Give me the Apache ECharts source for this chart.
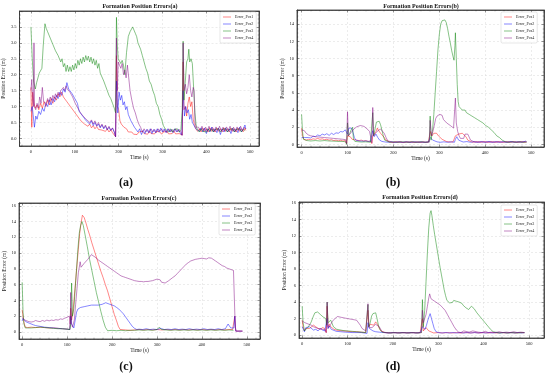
<!DOCTYPE html>
<html><head><meta charset="utf-8">
<script src="https://cdn.jsdelivr.net/npm/echarts@6/dist/echarts.min.js"></script>
<style>html,body{margin:0;padding:0;background:#fff}#c{width:550px;height:377px}</style>
</head><body><div id="c"></div>
<script>
const seriesNames = ['Error_Pos1','Error_Pos2','Error_Pos3','Error_Pos4'];
const panelTitles = ['Formation Position Errors(a)','Formation Position Errors(b)','Formation Position Errors(c)','Formation Position Errors(d)'];
const captions = ['(a)','(b)','(c)','(d)'];
const xAxisName = 'Time (s)';
const yAxisName = 'Position Error (m)';

// ---- panel (a) ----
const a_pos1 = [[0,1.6],[2,0.35],[4,1.45],[7,1.1],[10,0.95],[14,1.05],[18,0.9],[22,1.1],[26,0.95],[30,1.15],[34,1.0],[38,1.2],[42,1.05],[46,1.25],[50,1.1],[54,1.3],[58,1.2],[62,1.4],[66,1.3],[70,1.45],[74,1.3],[78,1.35],[82,1.15],[86,1.2],[90,1.0],[94,1.05],[98,0.85],[102,0.9],[106,0.7],[110,0.75],[114,0.55],[118,0.6],[122,0.45],[126,0.5],[130,0.38],[134,0.45],[138,0.33],[142,0.4],[146,0.3],[150,0.37],[154,0.28],[158,0.34],[162,0.26],[166,0.32],[170,0.22],[174,0.3],[178,0.2],[182,0.27],[186,0.18],[190,0.24],[193,0.05],[195,2.6],[197,1.0],[200,0.9],[203,0.55],[206,0.45],[209,0.5],[212,0.35],[215,0.4],[218,0.3],[222,0.2],[226,0.15],[230,0.2],[234,0.13],[238,0.18],[242,0.12],[246,0.2],[250,0.14],[254,0.22],[258,0.15],[262,0.2],[266,0.13],[270,0.22],[274,0.15],[278,0.2],[282,0.14],[286,0.22],[290,0.16],[294,0.2],[298,0.13],[302,0.2],[306,0.15],[310,0.22],[314,0.14],[318,0.2],[322,0.15],[326,0.22],[330,0.14],[334,0.2],[338,0.15],[342,0.2],[345,0.1],[347,2.4],[349,0.9],[352,1.0],[355,0.7],[358,1.1],[361,1.3],[364,1.0],[367,1.15],[370,0.6],[373,0.4],[376,0.3],[380,0.22],[384,0.3],[388,0.2],[392,0.32],[396,0.22],[400,0.3],[404,0.2],[408,0.33],[412,0.22],[416,0.3],[420,0.2],[424,0.32],[428,0.22],[432,0.3],[436,0.2],[440,0.33],[444,0.22],[448,0.3],[452,0.2],[456,0.32],[460,0.22],[464,0.3],[468,0.2],[472,0.32],[476,0.22],[480,0.3],[484,0.21],[488,0.32],[490,0.25]];
const a_pos2 = [[0,0.85],[3,1.0],[5,0.75],[8,0.35],[11,0.7],[14,0.6],[18,0.85],[22,0.75],[26,0.95],[30,0.85],[34,1.1],[38,1.0],[42,1.2],[46,1.05],[50,1.25],[54,1.15],[58,1.35],[62,1.25],[66,1.45],[70,1.35],[74,1.55],[78,1.45],[82,1.75],[86,1.55],[90,1.6],[94,1.4],[98,1.45],[102,1.2],[106,1.1],[110,0.85],[114,0.9],[118,0.7],[122,0.75],[126,0.55],[130,0.6],[134,0.45],[138,0.55],[142,0.4],[146,0.5],[150,0.38],[154,0.45],[158,0.33],[162,0.42],[166,0.3],[170,0.38],[174,0.27],[178,0.35],[182,0.25],[186,0.32],[190,0.2],[193,0.05],[195,1.8],[198,0.8],[201,1.45],[204,1.2],[207,1.35],[210,1.05],[213,1.15],[216,0.9],[219,1.0],[222,0.75],[225,0.8],[228,0.55],[232,0.6],[236,0.35],[240,0.4],[244,0.2],[248,0.3],[252,0.12],[256,0.25],[260,0.15],[264,0.28],[268,0.18],[272,0.3],[276,0.15],[280,0.28],[284,0.18],[288,0.3],[292,0.2],[296,0.32],[300,0.2],[304,0.3],[308,0.18],[312,0.3],[316,0.2],[320,0.28],[324,0.18],[328,0.3],[332,0.2],[336,0.28],[340,0.18],[344,0.1],[347,1.5],[350,0.7],[353,1.0],[356,0.8],[359,0.9],[362,0.6],[365,0.75],[368,0.5],[372,0.55],[376,0.3],[380,0.35],[384,0.22],[388,0.33],[392,0.2],[396,0.32],[400,0.15],[404,0.3],[408,0.2],[412,0.35],[416,0.2],[420,0.3],[424,0.18],[428,0.32],[432,0.12],[436,0.3],[440,0.2],[444,0.33],[448,0.2],[452,0.3],[456,0.15],[460,0.32],[464,0.2],[468,0.3],[472,0.18],[476,0.35],[480,0.2],[484,0.3],[488,0.42],[490,0.3]];
const a_pos3 = [[0,3.5],[3,2.5],[6,1.8],[10,1.55],[13,1.75],[16,1.9],[19,2.05],[22,2.0],[25,2.2],[28,2.9],[32,3.6],[35,3.45],[38,3.35],[41,3.38],[44,3.15],[47,3.2],[50,2.95],[53,3.0],[56,2.75],[59,2.8],[62,2.6],[65,2.65],[68,2.4],[71,2.5],[74,2.25],[77,2.35],[80,2.1],[83,2.3],[86,2.1],[89,2.25],[92,2.1],[95,2.3],[98,2.15],[101,2.35],[104,2.2],[107,2.45],[110,2.3],[113,2.5],[116,2.35],[119,2.55],[122,2.4],[125,2.6],[128,2.45],[131,2.58],[134,2.4],[137,2.55],[140,2.35],[143,2.5],[146,2.3],[149,2.45],[152,2.2],[155,2.35],[158,2.05],[162,2.0],[166,1.8],[170,1.65],[174,1.5],[178,1.35],[182,1.25],[186,1.1],[190,0.95],[193,0.8],[195,3.8],[197,2.9],[199,2.5],[202,2.55],[205,2.35],[208,2.45],[211,2.3],[214,2.0],[218,2.7],[222,3.2],[226,3.35],[229,3.3],[232,3.5],[235,3.4],[238,3.3],[241,3.2],[244,3.0],[247,2.95],[250,2.8],[254,2.6],[258,2.4],[262,2.2],[266,2.05],[270,1.8],[274,1.7],[278,1.5],[282,1.35],[286,1.1],[290,1.0],[294,0.75],[298,0.6],[302,0.4],[306,0.3],[310,0.25],[314,0.2],[318,0.3],[322,0.2],[326,0.28],[330,0.22],[334,0.3],[338,0.2],[342,0.28],[345,0.9],[347,3.05],[349,1.2],[352,1.8],[355,2.4],[358,2.5],[360,2.8],[362,2.4],[365,2.5],[368,2.35],[371,2.3],[374,0.8],[377,0.35],[380,0.28],[384,0.2],[388,0.3],[392,0.22],[396,0.28],[400,0.2],[404,0.3],[408,0.22],[412,0.3],[416,0.2],[420,0.28],[424,0.22],[428,0.3],[432,0.2],[436,0.28],[440,0.22],[444,0.3],[448,0.2],[452,0.28],[456,0.22],[460,0.3],[464,0.2],[468,0.28],[472,0.22],[476,0.3],[480,0.2],[484,0.28],[488,0.25]];
const a_pos4 = [[0,1.5],[2,1.85],[4,1.2],[6,1.0],[7,3.0],[8,1.0],[11,0.9],[14,1.1],[17,0.95],[20,1.3],[23,1.1],[26,1.6],[29,1.15],[32,1.2],[35,1.1],[38,1.25],[41,1.15],[44,1.3],[47,1.2],[50,1.35],[53,1.25],[56,1.4],[59,1.3],[62,1.45],[65,1.35],[68,1.5],[71,1.45],[74,1.6],[77,1.5],[80,1.65],[83,1.55],[86,1.6],[89,1.45],[92,1.5],[95,1.3],[98,1.35],[101,1.1],[104,1.15],[107,0.95],[110,1.0],[113,0.8],[116,0.85],[119,0.7],[122,0.75],[126,0.6],[130,0.65],[134,0.5],[138,0.58],[142,0.45],[146,0.55],[150,0.4],[154,0.5],[158,0.35],[162,0.45],[166,0.32],[170,0.42],[174,0.28],[178,0.38],[182,0.25],[186,0.33],[190,0.2],[193,0.05],[195,3.15],[197,1.5],[199,2.4],[202,2.3],[205,2.2],[208,2.35],[211,2.0],[214,2.15],[217,1.9],[220,2.3],[223,1.9],[226,1.5],[230,1.2],[234,0.95],[238,0.8],[242,0.6],[246,0.45],[250,0.35],[254,0.2],[258,0.3],[262,0.2],[266,0.28],[270,0.18],[274,0.3],[278,0.2],[282,0.28],[286,0.18],[290,0.3],[294,0.22],[298,0.3],[302,0.2],[306,0.28],[310,0.18],[314,0.3],[318,0.2],[322,0.28],[326,0.2],[330,0.3],[334,0.2],[338,0.28],[342,0.2],[345,0.1],[347,3.0],[349,1.5],[352,1.7],[355,1.4],[358,1.6],[361,2.0],[364,1.5],[367,1.3],[370,1.6],[372,1.5],[374,0.5],[377,0.35],[380,0.3],[382,0.35],[386,0.25],[390,0.38],[394,0.25],[398,0.35],[402,0.22],[406,0.38],[410,0.25],[414,0.35],[418,0.22],[422,0.36],[426,0.25],[430,0.38],[434,0.24],[438,0.35],[442,0.22],[446,0.36],[450,0.25],[454,0.38],[458,0.24],[462,0.35],[466,0.22],[470,0.36],[474,0.25],[478,0.38],[482,0.24],[486,0.35],[490,0.3]];

// ---- panel (b) ----
const b_pos1 = [[0,1.9],[2,1.0],[5,0.6],[10,0.5],[15,0.6],[20,0.55],[25,0.65],[30,0.6],[35,0.7],[40,0.6],[45,0.65],[50,0.55],[55,0.6],[60,0.5],[65,0.55],[70,0.45],[75,0.5],[80,0.42],[85,0.48],[90,0.4],[95,0.45],[98,0.1],[100,1.0],[103,0.8],[106,0.9],[110,0.6],[115,0.55],[120,0.5],[125,0.45],[130,0.5],[135,0.4],[140,0.45],[145,0.35],[150,0.4],[153,0.1],[155,1.0],[158,1.2],[162,1.5],[165,1.9],[168,1.6],[172,1.3],[176,1.1],[180,0.8],[184,0.5],[188,0.3],[192,0.28],[198,0.22],[204,0.3],[210,0.25],[216,0.3],[222,0.22],[228,0.28],[234,0.25],[240,0.3],[246,0.22],[252,0.28],[258,0.25],[264,0.3],[270,0.22],[276,0.28],[279,0.1],[281,1.5],[284,1.0],[288,1.3],[291,1.5],[294,1.3],[298,1.0],[302,0.8],[306,0.6],[310,0.45],[315,0.35],[320,0.3],[325,0.28],[330,0.3],[333,0.2],[335,1.0],[338,0.8],[342,1.2],[346,1.4],[350,1.3],[354,1.2],[358,0.9],[362,0.5],[366,0.3],[372,0.25],[380,0.32],[388,0.25],[396,0.33],[404,0.25],[412,0.32],[420,0.24],[428,0.33],[436,0.25],[444,0.32],[452,0.25],[460,0.33],[468,0.25],[476,0.32],[484,0.25],[490,0.3]];
const b_pos2 = [[0,0.8],[3,0.6],[6,0.8],[10,0.6],[15,0.8],[20,0.75],[25,0.95],[30,0.9],[35,1.1],[40,1.0],[45,1.2],[50,1.1],[55,1.25],[60,1.05],[65,1.3],[70,1.15],[75,1.35],[80,1.3],[85,1.5],[90,1.45],[95,1.7],[98,1.8],[100,1.2],[103,1.9],[106,2.0],[109,1.9],[112,1.4],[115,0.8],[118,0.5],[122,0.45],[126,0.4],[130,0.42],[135,0.38],[140,0.4],[145,0.35],[150,0.37],[153,0.2],[155,1.6],[158,0.9],[162,1.2],[166,0.8],[170,0.5],[175,0.35],[180,0.3],[188,0.25],[196,0.3],[204,0.24],[212,0.3],[220,0.25],[228,0.3],[236,0.24],[244,0.3],[252,0.25],[260,0.3],[268,0.24],[276,0.28],[280,0.8],[283,0.6],[286,0.5],[290,0.4],[295,0.3],[302,0.25],[310,0.3],[318,0.25],[326,0.3],[333,0.25],[335,0.6],[338,0.9],[342,0.5],[346,0.35],[352,0.28],[360,0.33],[368,0.25],[376,0.32],[384,0.24],[392,0.33],[400,0.25],[408,0.35],[416,0.24],[424,0.32],[432,0.25],[440,0.33],[448,0.24],[456,0.35],[464,0.25],[472,0.32],[480,0.25],[488,0.38],[490,0.3]];
const b_pos3 = [[0,3.5],[2,1.5],[4,0.6],[8,0.4],[12,0.45],[20,0.4],[30,0.45],[40,0.4],[50,0.45],[60,0.4],[70,0.38],[80,0.35],[90,0.35],[96,0.3],[98,0.0],[100,2.5],[102,1.0],[105,1.3],[108,1.7],[111,2.0],[113,0.6],[116,0.35],[120,0.3],[130,0.28],[140,0.3],[150,0.25],[153,0.1],[155,3.7],[157,1.0],[160,1.8],[163,2.6],[166,2.4],[169,2.7],[172,2.3],[175,2.5],[178,1.0],[181,0.5],[185,0.3],[192,0.25],[200,0.3],[210,0.25],[220,0.3],[230,0.25],[240,0.3],[250,0.25],[260,0.3],[270,0.25],[278,0.3],[280,3.3],[282,0.5],[285,1.5],[288,3.5],[291,6.0],[294,8.5],[297,11.0],[300,12.8],[303,14.0],[306,14.4],[309,14.6],[312,14.5],[315,14.2],[318,13.5],[321,12.6],[324,11.8],[327,10.9],[330,10.2],[332,9.8],[334,11.5],[335,13.0],[337,10.0],[339,7.0],[341,5.0],[343,4.4],[346,4.2],[350,4.0],[353,3.9],[356,4.0],[359,3.7],[362,3.8],[365,3.5],[368,3.6],[371,3.3],[374,3.5],[377,3.1],[380,3.2],[383,2.9],[386,3.0],[389,2.7],[392,2.9],[395,2.5],[398,2.6],[401,2.2],[404,2.4],[407,2.0],[410,2.1],[413,1.7],[416,1.8],[419,1.4],[422,1.3],[425,1.0],[428,1.1],[431,0.8],[434,0.7],[437,0.5],[440,0.35],[444,0.3],[452,0.25],[460,0.3],[468,0.25],[476,0.3],[484,0.25],[490,0.28]];
const b_pos4 = [[0,1.7],[3,1.5],[6,1.6],[10,1.3],[15,1.1],[20,1.0],[25,0.95],[30,0.9],[40,0.85],[50,0.8],[60,0.75],[70,0.7],[80,0.65],[90,0.6],[96,0.55],[98,0.1],[100,3.8],[102,1.0],[105,1.2],[108,1.4],[111,1.6],[114,1.8],[117,1.95],[120,2.05],[124,2.15],[128,2.2],[132,2.15],[136,2.1],[140,1.95],[144,1.75],[148,1.5],[151,1.3],[153,0.2],[155,4.3],[157,1.0],[160,1.2],[164,1.5],[168,1.7],[172,1.8],[176,1.6],[180,1.3],[184,0.8],[188,0.4],[192,0.3],[200,0.25],[210,0.3],[220,0.24],[230,0.3],[240,0.25],[250,0.3],[260,0.24],[270,0.3],[278,0.25],[280,2.8],[283,1.0],[286,1.5],[289,2.2],[292,3.0],[295,3.3],[298,3.4],[301,3.5],[304,3.6],[306,3.4],[309,2.9],[312,2.7],[316,2.5],[320,2.35],[324,2.2],[328,2.05],[331,1.9],[333,1.8],[335,5.4],[337,2.5],[340,1.5],[343,1.0],[346,0.7],[350,0.5],[353,0.7],[356,1.2],[359,1.3],[362,1.2],[365,1.0],[368,0.5],[371,0.35],[378,0.25],[386,0.32],[394,0.25],[402,0.3],[410,0.24],[418,0.32],[426,0.25],[434,0.3],[442,0.24],[450,0.32],[458,0.25],[466,0.3],[474,0.24],[482,0.32],[490,0.28]];

// ---- panel (c) ----
const c_pos1 = [[0,2.8],[2,2.0],[4,1.2],[7,0.6],[12,0.55],[20,0.6],[30,0.55],[40,0.6],[50,0.55],[60,0.5],[70,0.5],[80,0.45],[90,0.4],[100,0.35],[106,0.3],[108,3.0],[110,1.5],[113,2.5],[116,4.5],[119,6.5],[122,8.5],[125,10.5],[128,12.5],[131,13.8],[134,14.8],[136,15.0],[138,14.5],[142,13.8],[146,13.0],[150,12.3],[155,11.3],[160,10.4],[165,9.5],[170,8.6],[175,7.7],[180,6.9],[185,6.0],[190,5.2],[195,4.2],[200,3.2],[205,2.2],[210,1.4],[214,0.7],[218,0.3],[222,0.2],[230,0.25],[240,0.2],[250,0.25],[260,0.3],[270,0.25],[280,0.3],[290,0.25],[300,0.3],[310,0.25],[320,0.3],[330,0.25],[340,0.3],[350,0.25],[360,0.3],[370,0.25],[380,0.3],[390,0.25],[400,0.3],[410,0.25],[420,0.3],[430,0.25],[440,0.3],[450,0.25],[460,0.3],[468,0.3],[471,0.5],[473,2.0],[475,0.1],[480,0.1],[490,0.1]];
const c_pos2 = [[0,1.4],[2,1.7],[4,1.5],[8,1.3],[12,1.2],[16,1.1],[20,1.0],[25,0.9],[30,0.8],[35,0.75],[40,0.7],[50,0.6],[60,0.55],[70,0.5],[80,0.45],[90,0.4],[100,0.35],[106,0.3],[108,2.0],[110,1.0],[112,0.8],[115,0.5],[118,1.5],[121,2.5],[124,2.9],[127,3.0],[130,3.1],[134,3.0],[138,3.2],[142,3.1],[146,3.3],[150,3.2],[154,3.4],[158,3.3],[162,3.4],[166,3.5],[170,3.4],[174,3.6],[178,3.5],[182,3.7],[186,3.7],[190,3.6],[195,3.5],[200,3.4],[205,3.3],[210,3.1],[215,2.9],[220,2.6],[225,2.3],[230,1.9],[235,1.5],[240,1.1],[245,0.7],[250,0.45],[255,0.3],[260,0.35],[268,0.3],[276,0.4],[284,0.3],[292,0.35],[300,0.3],[308,0.45],[316,0.3],[324,0.35],[332,0.3],[340,0.4],[348,0.3],[356,0.35],[364,0.3],[372,0.4],[380,0.3],[388,0.35],[396,0.3],[404,0.4],[412,0.3],[420,0.35],[428,0.3],[436,0.4],[444,0.3],[452,0.4],[455,0.6],[458,1.0],[461,0.8],[464,0.5],[468,0.4],[471,0.5],[473,2.0],[475,0.1],[482,0.1],[490,0.1]];
const c_pos3 = [[0,6.3],[2,2.5],[4,1.0],[7,0.5],[12,0.5],[20,0.5],[30,0.55],[40,0.6],[50,0.55],[60,0.5],[70,0.45],[80,0.4],[90,0.4],[100,0.35],[106,0.3],[108,1.0],[110,6.2],[112,2.0],[115,3.0],[118,5.5],[121,8.0],[124,10.5],[127,12.5],[130,13.5],[133,14.0],[136,13.5],[140,12.3],[145,10.8],[150,9.2],[155,7.8],[160,6.4],[165,5.0],[170,3.8],[175,2.6],[180,1.5],[185,0.6],[190,0.15],[200,0.2],[210,0.15],[220,0.2],[230,0.15],[240,0.2],[250,0.2],[260,0.25],[270,0.2],[280,0.25],[290,0.2],[300,0.3],[305,0.6],[310,0.3],[320,0.25],[330,0.2],[340,0.25],[350,0.2],[360,0.25],[370,0.2],[380,0.25],[390,0.2],[400,0.25],[410,0.2],[420,0.25],[430,0.2],[440,0.25],[450,0.2],[460,0.25],[470,0.2]];
const c_pos4 = [[0,1.8],[3,1.7],[6,1.5],[10,1.4],[15,1.3],[20,1.25],[25,1.3],[30,1.45],[35,1.35],[40,1.3],[45,1.45],[50,1.35],[55,1.5],[60,1.4],[65,1.5],[70,1.45],[75,1.55],[80,1.5],[85,1.65],[90,1.6],[95,1.75],[100,1.85],[105,2.0],[107,1.0],[108,5.0],[110,1.0],[112,0.6],[114,0.5],[116,1.5],[119,3.5],[122,5.5],[125,7.5],[127,8.2],[129,8.9],[131,8.2],[134,8.4],[138,8.7],[142,8.9],[146,9.2],[150,9.5],[154,9.8],[158,9.7],[162,9.5],[166,9.3],[170,9.1],[175,8.9],[180,8.7],[185,8.5],[190,8.3],[195,8.1],[200,7.9],[205,7.7],[210,7.5],[215,7.3],[220,7.1],[225,7.0],[230,6.9],[235,6.8],[240,6.7],[245,6.6],[250,6.5],[255,6.45],[260,6.4],[265,6.4],[270,6.35],[275,6.4],[280,6.4],[285,6.45],[290,6.5],[295,6.6],[300,6.7],[304,6.9],[307,6.6],[310,6.3],[314,6.1],[318,6.2],[322,6.3],[326,6.5],[330,6.7],[335,6.9],[340,7.1],[345,7.4],[350,7.7],[355,8.0],[360,8.3],[365,8.6],[370,8.8],[375,9.0],[380,9.1],[385,9.2],[390,9.25],[395,9.3],[400,9.35],[405,9.3],[410,9.25],[415,9.4],[418,9.6],[421,9.35],[425,9.2],[430,9.0],[435,8.8],[440,8.6],[445,8.4],[450,8.3],[455,8.1],[460,8.0],[465,7.9],[470,7.8],[473,7.6],[474,0.5],[476,0.1],[490,0.1]];

// ---- panel (d) ----
const d_pos1 = [[0,1.8],[2,1.0],[5,0.5],[8,0.8],[12,1.0],[16,0.8],[20,0.9],[25,1.2],[30,1.0],[35,0.8],[40,0.7],[45,0.9],[50,0.8],[53,0.3],[55,3.5],[57,1.0],[60,1.3],[63,1.0],[66,0.8],[70,0.7],[75,0.6],[80,0.55],[90,0.5],[100,0.45],[110,0.4],[120,0.4],[130,0.35],[140,0.3],[143,0.2],[145,3.0],[147,1.0],[150,1.3],[154,1.5],[158,1.2],[162,1.6],[166,1.3],[170,0.8],[174,0.5],[178,0.35],[182,0.3],[190,0.25],[200,0.3],[210,0.25],[220,0.3],[230,0.25],[240,0.3],[250,0.25],[260,0.3],[263,0.2],[265,2.0],[267,0.5],[270,0.6],[273,0.9],[276,1.0],[279,0.5],[282,0.3],[290,0.25],[300,0.3],[310,0.25],[320,0.3],[330,0.25],[340,0.3],[350,0.25],[360,0.3],[370,0.25],[380,0.3],[390,0.25],[400,0.3],[410,0.25],[420,0.3],[430,0.25],[440,0.3],[450,0.25],[460,0.3],[470,0.25],[480,0.3],[490,0.28]];
const d_pos2 = [[0,1.0],[2,0.8],[5,0.4],[8,0.9],[12,0.7],[16,1.0],[20,0.8],[25,0.6],[30,0.7],[35,0.5],[40,0.8],[45,0.6],[50,0.5],[53,0.3],[55,2.0],[57,0.8],[60,1.1],[64,0.7],[68,0.5],[75,0.45],[85,0.4],[95,0.35],[110,0.3],[130,0.3],[143,0.2],[145,1.5],[148,0.8],[152,0.6],[156,0.5],[162,0.4],[170,0.35],[180,0.3],[190,0.25],[200,0.3],[210,0.25],[220,0.3],[230,0.25],[240,0.3],[250,0.25],[260,0.3],[263,0.2],[265,1.0],[268,0.8],[271,0.7],[274,1.2],[277,1.8],[280,2.3],[282,2.6],[285,2.0],[288,1.4],[291,0.8],[295,0.4],[300,0.3],[308,0.25],[316,0.3],[324,0.25],[332,0.3],[340,0.25],[348,0.3],[356,0.25],[364,0.3],[372,0.25],[380,0.3],[388,0.25],[396,0.3],[404,0.25],[412,0.3],[420,0.25],[428,0.3],[436,0.25],[444,0.3],[452,0.25],[460,0.3],[468,0.25],[476,0.3],[484,0.25],[490,0.3]];
const d_pos3 = [[0,3.5],[2,1.5],[5,0.5],[8,0.6],[12,0.9],[16,1.2],[20,1.6],[24,2.2],[28,2.7],[31,2.9],[34,2.8],[37,2.65],[40,2.5],[43,2.35],[46,2.2],[49,2.05],[52,2.0],[54,1.2],[55,4.0],[57,1.5],[60,1.6],[63,1.8],[66,1.6],[69,1.0],[72,0.8],[76,0.7],[80,0.65],[90,0.55],[100,0.5],[110,0.45],[120,0.4],[130,0.35],[140,0.3],[143,0.2],[145,3.7],[147,1.0],[150,1.5],[153,2.3],[156,2.6],[159,2.5],[162,2.7],[165,2.0],[168,1.2],[172,0.6],[176,0.35],[185,0.3],[195,0.25],[205,0.3],[215,0.25],[225,0.3],[235,0.25],[245,0.3],[255,0.25],[263,0.3],[265,4.3],[267,1.0],[270,3.0],[273,6.5],[276,10.0],[279,13.0],[282,14.8],[284,15.1],[286,14.5],[289,13.3],[292,12.2],[295,11.2],[298,10.2],[301,9.2],[304,8.2],[307,7.3],[310,6.4],[313,5.5],[316,4.8],[319,4.2],[322,4.0],[325,3.9],[328,4.05],[331,3.95],[334,4.2],[337,4.0],[340,4.1],[343,3.9],[346,4.0],[349,3.8],[352,3.85],[355,3.6],[358,3.5],[361,3.3],[364,3.2],[367,3.1],[370,3.3],[373,3.5],[376,3.3],[379,3.2],[382,3.0],[385,2.7],[388,2.5],[391,2.3],[394,2.1],[397,1.9],[400,1.7],[403,1.5],[406,1.3],[409,1.1],[412,0.9],[415,0.7],[418,0.55],[421,0.4],[425,0.3],[435,0.25],[445,0.3],[455,0.25],[465,0.3],[475,0.25],[485,0.3],[490,0.28]];
const d_pos4 = [[0,1.7],[3,1.6],[6,1.5],[10,1.4],[15,1.3],[20,1.2],[25,1.0],[30,0.9],[35,0.8],[40,0.75],[45,0.7],[50,0.65],[53,0.3],[55,4.0],[57,0.8],[60,1.0],[63,1.3],[66,1.6],[70,1.9],[74,2.1],[78,2.25],[82,2.2],[86,2.15],[90,2.1],[95,2.05],[100,2.0],[105,1.95],[110,1.9],[115,1.85],[120,1.8],[124,1.6],[128,1.2],[132,0.8],[136,0.6],[140,0.5],[143,0.3],[145,3.8],[147,0.9],[150,0.8],[154,0.9],[158,1.1],[162,1.3],[166,1.4],[170,1.0],[174,0.6],[178,0.35],[186,0.3],[196,0.25],[206,0.3],[216,0.25],[226,0.3],[236,0.25],[246,0.3],[256,0.25],[263,0.3],[265,3.0],[267,1.5],[270,1.3],[273,2.5],[276,3.5],[279,4.5],[281,5.0],[284,4.4],[288,4.3],[292,4.1],[296,4.0],[300,3.8],[305,3.6],[310,3.3],[315,3.0],[320,2.5],[325,2.0],[330,1.5],[335,1.0],[340,0.6],[345,0.35],[350,0.3],[356,0.5],[360,0.3],[368,0.35],[376,0.5],[380,0.3],[388,0.35],[396,0.3],[404,0.45],[410,0.3],[418,0.35],[426,0.3],[434,0.4],[442,0.3],[450,0.35],[458,0.3],[466,0.4],[474,0.3],[482,0.35],[490,0.3]];

const panelData = [
  [a_pos1, a_pos2, a_pos3, a_pos4],
  [b_pos1, b_pos2, b_pos3, b_pos4],
  [c_pos1, c_pos2, c_pos3, c_pos4],
  [d_pos1, d_pos2, d_pos3, d_pos4]
];

// ---- layout / styles ----
const FONT = "'Liberation Serif','Times New Roman',serif";
const lineColors = ['#ff0000','#0000ff','#008000','#800080'];
const grids = [
  {left:19, top:11, width:240, height:135},
  {left:297, top:10, width:247, height:137},
  {left:19, top:203, width:241, height:136},
  {left:299, top:202, width:245, height:136}
];
const xRanges = [[-26,520],[-10,528],[-7,529],[-7,533]];
const yRanges = [[-0.24,4.0],[-0.3,15.65],[-0.9,16.35],[-0.36,16.15]];
const ySplit = [8,8,8,8];
const legendPos = [{left:220,top:12},{left:501,top:12},{left:219,top:204},{left:501,top:205}];
const titlePos = [[140,6],[421,6],[139,198],[420,197]];
const captionPos = [[126,183],[393,183],[126,367],[393,367]];

const xAxes = [], yAxes = [], series = [], legends = [], graphics = [];
grids.forEach((g, i) => {
  const axLine = {show:true, onZero:false, lineStyle:{color:'#333', width:0.8}};
  const tick = {show:true, inside:true, length:2.5, lineStyle:{color:'#333', width:0.5}};
  const xMinor = {show:true, splitNumber:5, length:1.3, lineStyle:{color:'#333', width:0.4}};
  const yMinor = {show:true, splitNumber:4, length:1.3, lineStyle:{color:'#333', width:0.4}};
  const split = {show:true, lineStyle:{color:'#d8d8d8', width:0.5, type:[2,2]}};
  xAxes.push({type:'value', gridIndex:i, position:'bottom', min:xRanges[i][0], max:xRanges[i][1], splitNumber:5,
    axisLine:axLine, axisTick:tick, minorTick:xMinor, splitLine:split,
    axisLabel:{fontFamily:FONT, fontSize:4.5, color:'#222', margin:3, showMinLabel:false, showMaxLabel:false},
    name:xAxisName, nameLocation:'middle', nameGap:9, nameTextStyle:{fontFamily:FONT, fontSize:5.5, color:'#222'}});
  xAxes.push({type:'value', gridIndex:i, position:'top', min:xRanges[i][0], max:xRanges[i][1], splitNumber:5,
    axisLine:axLine, axisTick:tick, minorTick:xMinor, splitLine:{show:false}, axisLabel:{show:false}});
  yAxes.push({type:'value', gridIndex:i, position:'left', min:yRanges[i][0], max:yRanges[i][1], splitNumber:ySplit[i],
    axisLine:axLine, axisTick:tick, minorTick:yMinor, splitLine:split,
    axisLabel:{fontFamily:FONT, fontSize:4.5, color:'#222', margin:3, showMinLabel:false, showMaxLabel:false,
      formatter: i === 0 ? (v => v.toFixed(1)) : (v => String(Math.round(v)))},
    name:yAxisName, nameLocation:'middle', nameGap: i === 0 ? 12 : 11, nameTextStyle:{fontFamily:FONT, fontSize:5.5, color:'#222'}});
  yAxes.push({type:'value', gridIndex:i, position:'right', min:yRanges[i][0], max:yRanges[i][1], splitNumber:ySplit[i],
    axisLine:axLine, axisTick:tick, minorTick:yMinor, splitLine:{show:false}, axisLabel:{show:false}});
  panelData[i].forEach((d, k) => {
    series.push({type:'line', name:seriesNames[k], xAxisIndex:2*i, yAxisIndex:2*i, data:d,
      symbol:'none', showSymbol:false, silent:true, z:2,
      lineStyle:{color:lineColors[k], width:0.8, opacity:0.6}, itemStyle:{color:lineColors[k], opacity:0.6}});
  });
  legends.push({orient:'vertical', left:legendPos[i].left, top:legendPos[i].top, data:seriesNames,
    icon:'rect', itemWidth:8, itemHeight:0.8, itemGap:3, padding:[3,3,3,3],
    borderColor:'#cccccc', borderWidth:0.5, borderRadius:1.5, backgroundColor:'rgba(255,255,255,0.85)',
    textStyle:{fontFamily:FONT, fontSize:4, color:'#222', padding:[0,0,0,-1]}, selectedMode:false});
  graphics.push({type:'text', x:titlePos[i][0], y:titlePos[i][1], style:{text:panelTitles[i], font:"bold 6px 'Liberation Serif'", fill:'#111', textAlign:'center', textVerticalAlign:'middle'}});
  graphics.push({type:'text', x:captionPos[i][0], y:captionPos[i][1], style:{text:captions[i], font:"bold 12px 'Liberation Serif'", fill:'#111', textAlign:'center', textVerticalAlign:'middle'}});
});

const chart = echarts.init(document.getElementById('c'), null, {renderer:'canvas'});
chart.setOption({
  animation:false,
  grid: grids.map(g => Object.assign({show:true, borderColor:'#333', borderWidth:0.8, backgroundColor:'transparent'}, g)),
  xAxis: xAxes, yAxis: yAxes, series: series, legend: legends, graphic: graphics
});
</script>
</body></html>
